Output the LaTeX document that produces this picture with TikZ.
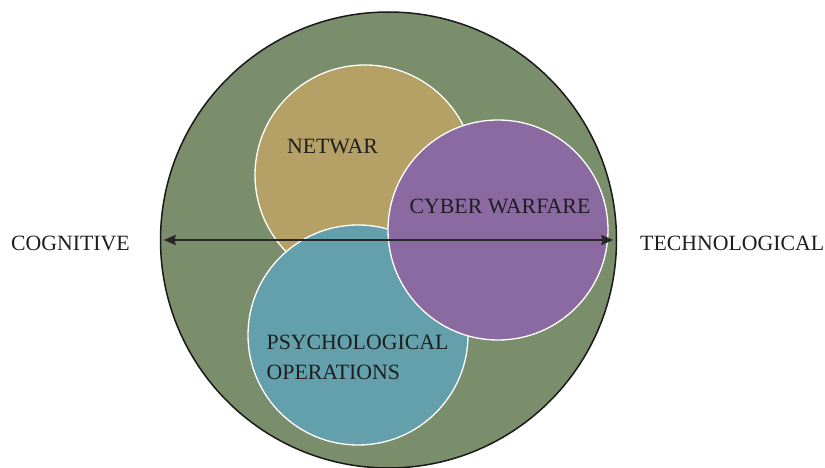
\documentclass[tikz,border=0pt]{standalone}
\usepackage{fontspec}
\setmainfont{Liberation Serif}
\usepackage{xcolor}
\usetikzlibrary{arrows.meta, positioning, calc}

\definecolor{outergreen}{HTML}{7A8E6C}
\definecolor{netwartan}{HTML}{B5A166}
\definecolor{psyteal}{HTML}{64A0AC}
\definecolor{cyberpurple}{HTML}{8B6AA2}
\definecolor{labelgray}{HTML}{1E1E1E}

\begin{document}
\begin{tikzpicture}[x=1pt, y=-1pt,
    zone/.style={circle, draw=white, line width=1.3pt, minimum size=220pt, inner sep=0pt},
    lbl/.style={text=labelgray, font=\fontsize{21.8}{30}\selectfont, inner sep=0pt, align=left}]
    \useasboundingbox (0,0) rectangle (825,468);

    % Outer circle
    \node[circle, draw=black!90, line width=1.5pt, fill=outergreen, minimum size=456pt, inner sep=0pt] (outer) at (388.5,240) {};

    % Zones
    \node[zone, fill=netwartan] (netwar) at (365,175) {};
    \node[zone, fill=psyteal] (psyops) at (358,335) {};
    \node[zone, fill=cyberpurple] (cyber) at (498,230) {};

    % Axis
    \draw[{Stealth[length=12pt, width=10pt, inset=1.5pt]}-{Stealth[length=12pt, width=10pt, inset=1.5pt]}, line width=2pt, black!85,
          shorten <=4pt, shorten >=4pt] (outer.west) -- (outer.east);

    % Labels
    \node[lbl] (netwarlbl) at (332.5,146) {NETWAR};
    \node[lbl] (cyberlbl) at (500,206) {CYBER WARFARE};
    \node[lbl, anchor=west] (psylbl) at (266.5,357.5) {PSYCHOLOGICAL\\OPERATIONS};
    \node[lbl, anchor=east] (coglbl) at (130,243) {COGNITIVE};
    \node[lbl, anchor=west] (techlbl) at (640,243) {TECHNOLOGICAL};

\end{tikzpicture}
\end{document}
